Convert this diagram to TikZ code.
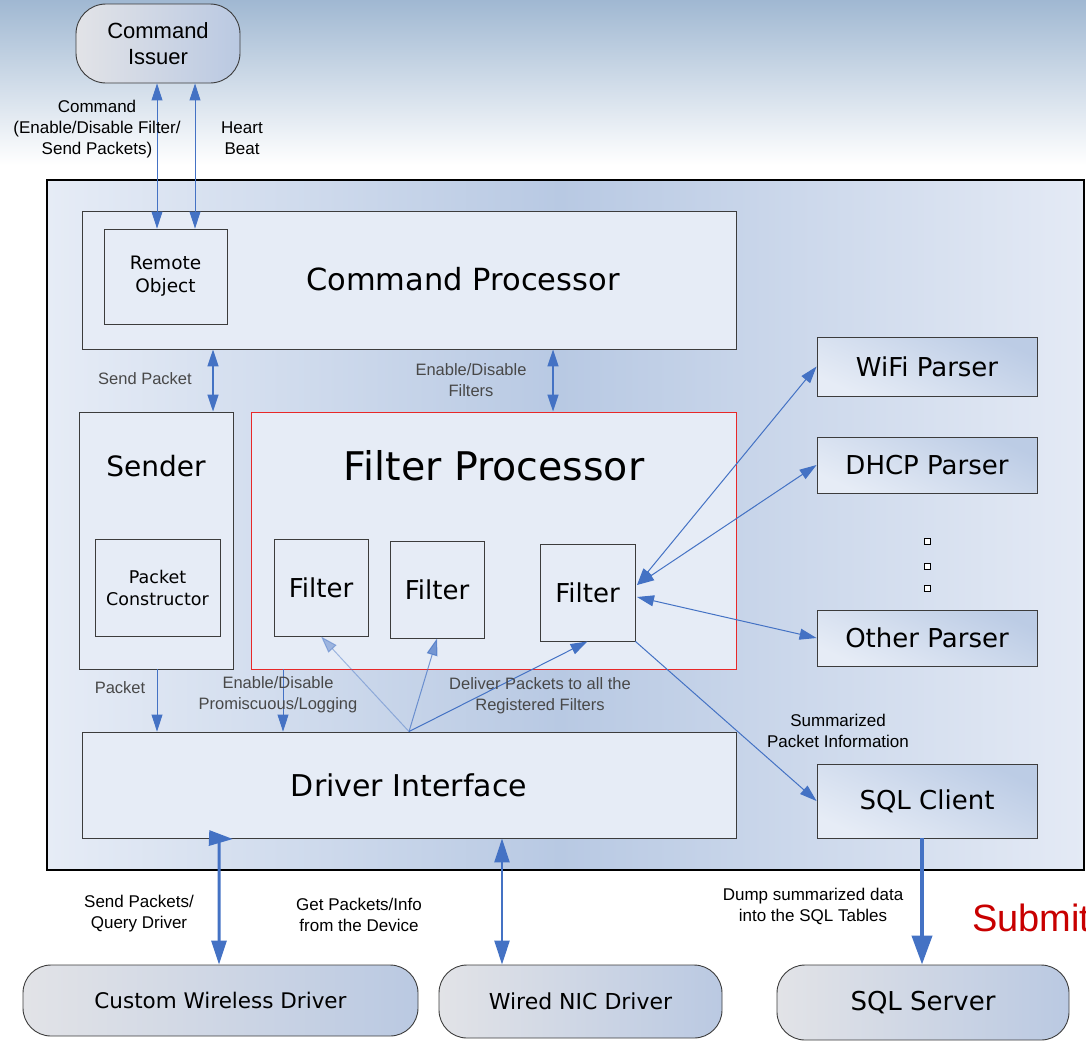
\documentclass[tikz,border=0pt]{standalone}
\usepackage{fontspec}
\setmainfont{Liberation Sans}
\newfontfamily\vfont{DejaVu Sans}
\usetikzlibrary{arrows.meta}

\definecolor{arrowblue}{RGB}{68,114,196}
\definecolor{boxfill}{RGB}{230,236,246}
\definecolor{panelleft}{RGB}{230,236,246}
\definecolor{panelmid}{RGB}{184,201,227}
\definecolor{panelright}{RGB}{228,234,245}
\definecolor{parsertop}{RGB}{188,204,229}
\definecolor{capgray}{RGB}{226,227,231}
\definecolor{capblue}{RGB}{186,201,226}
\definecolor{skytop}{RGB}{160,184,210}
\definecolor{labelgray}{RGB}{72,72,72}
\definecolor{framegray}{RGB}{60,60,60}
\definecolor{filterred}{RGB}{232,40,40}
\definecolor{submitred}{RGB}{200,0,0}

\tikzset{
  box/.style={draw=framegray, fill=boxfill, line width=0.9pt, inner sep=0pt, align=center, font=\vfont},
  parser/.style={box, top color=parsertop, bottom color=boxfill, shading angle=-25,
                 minimum width=220pt, font=\vfont\fontsize{26}{30}\selectfont},
  capsule/.style={draw=framegray, line width=0.9pt, rounded corners=28pt, inner sep=0pt,
                  left color=capgray, right color=capblue, align=center},
  lbl/.style={align=center, font=\fontsize{17}{21}\selectfont, text=black, inner sep=0pt},
  glbl/.style={lbl, font=\fontsize{16.5}{21}\selectfont, text=labelgray},
  conn/.style={draw=arrowblue, line width=1pt, >={Triangle[length=17pt,width=11pt]}},
  heavy/.style={draw=arrowblue, line width=3pt, >={Triangle[length=24pt,width=15pt]}},
  dotbox/.style={draw=black, fill=white, line width=0.7pt, minimum size=6pt, inner sep=0pt},
}

\begin{document}
\begin{tikzpicture}[x=1pt,y=-1pt]
\useasboundingbox (0,0) rectangle (1086,1044);

% sky backdrop
\shade[top color=skytop, bottom color=white] (0,0) rectangle (1086,165);

% system panel: light at the sides, deeper blue in the middle
\shade[left color=panelleft, right color=panelmid] (47,180) rectangle (560.5,870);
\shade[left color=panelmid, right color=panelright] (560,180) rectangle (1084,870);
\draw[line width=2.5pt] (47,180) rectangle (1084,870);

% external actors
\node[capsule, minimum width=164pt, minimum height=79pt, rounded corners=30pt,
      font=\fontsize{22}{26}\selectfont] (ci) at (158,43.5) {Command\\Issuer};
\node[capsule, minimum width=395pt, minimum height=71pt,
      font=\vfont\fontsize{21.5}{26}\selectfont] (cwd) at (220.5,1000.5) {Custom Wireless Driver};
\node[capsule, minimum width=283pt, minimum height=73pt,
      font=\vfont\fontsize{22}{26}\selectfont] (nic) at (580.5,1001.5) {Wired NIC Driver};
\node[capsule, minimum width=292pt, minimum height=75pt,
      font=\vfont\fontsize{26}{30}\selectfont] (sqls) at (923,1002.5) {SQL Server};

% command processor
\node[box, minimum width=654pt, minimum height=138pt] (cp) at (409,280) {};
\node[font=\vfont\fontsize{30.5}{36}\selectfont, inner sep=0pt] (cpt) at (463,279) {Command Processor};
\node[box, minimum width=123pt, minimum height=95pt, font=\vfont\fontsize{18.5}{23}\selectfont]
      (ro) at (165.5,276.5) {Remote\\Object};

% sender
\node[box, minimum width=154pt, minimum height=257pt] (snd) at (156,540.5) {};
\node[font=\vfont\fontsize{28}{32}\selectfont, inner sep=0pt] (sndt) at (156,466) {Sender};
\node[box, minimum width=125pt, minimum height=97pt, font=\vfont\fontsize{17.5}{22}\selectfont]
      (pc) at (157.5,587.5) {Packet\\Constructor};

% filter processor
\node[box, draw=filterred, minimum width=485pt, minimum height=257pt] (fp) at (493.5,540.5) {};
\node[font=\vfont\fontsize{39.5}{44}\selectfont, inner sep=0pt] (fpt) at (494,466) {Filter Processor};
\node[box, minimum width=94pt, minimum height=97pt, font=\vfont\fontsize{26}{30}\selectfont]
      (f1) at (321,587.5) {Filter};
\node[box, minimum width=94pt, minimum height=97pt, font=\vfont\fontsize{26}{30}\selectfont]
      (f2) at (437,589.5) {Filter};
\node[box, minimum width=95pt, minimum height=97pt, font=\vfont\fontsize{26}{30}\selectfont]
      (f3) at (587.5,592.5) {Filter};

% parsers
\node[parser, minimum height=59pt] (wifi) at (927,366.5) {WiFi Parser};
\node[parser, minimum height=56pt] (dhcp) at (927,465) {DHCP Parser};
\node[parser, minimum height=56pt] (other) at (927,638) {Other Parser};
\node[dotbox] (d1) at (927,541) {};
\node[dotbox] (d2) at (927,566) {};
\node[dotbox] (d3) at (927,588) {};

% driver interface and SQL client
\node[box, minimum width=654pt, minimum height=106pt, font=\vfont\fontsize{30}{36}\selectfont]
      (di) at (409,785) {Driver Interface};
\node[parser, minimum height=74pt] (sqlc) at (927,801) {SQL Client};

% connectors: command issuer <-> remote object
\draw[conn, <->] (ci.south -| 157,0) -- (ro.north -| 157,0);
\draw[conn, <->] (ci.south -| 195,0) -- (ro.north -| 195,0);

% command processor <-> sender / filter processor
\draw[conn, <->, line width=1.3pt] (cp.south -| 213,0) -- (snd.north -| 213,0);
\draw[conn, <->, line width=1.3pt] (cp.south -| 553,0) -- (fp.north -| 553,0);

% sender / filter processor -> driver interface
\draw[conn, ->] (snd.south -| 157,0) -- (di.north -| 157,0);
\draw[conn, ->] (fp.south -| 283,0) -- (di.north -| 283,0);

% packet delivery to filters
\draw[conn, ->, draw opacity=0.45, fill opacity=0.45] (di.north) -- (f1.south);
\draw[conn, ->, draw opacity=0.7, fill opacity=0.7] (di.north) -- (f2.south);
\draw[conn, ->] (di.north) -- (f3.south);

% filter <-> parsers
\coordinate (fa) at (637,585);
\coordinate (fb) at (637,597);
\draw[conn, <->] (fa) -- (wifi.west);
\draw[conn, <->] (fa) -- (dhcp.west);
\draw[conn, <->] (fb) -- (other.west);
\draw[conn, ->] (f3.south east) -- (sqlc.west);

% links to the outside
\draw[heavy, <->] (233,839) -- (di.south -| 219,0) -- (cwd.north -| 219,0);
\draw[heavy, <->, line width=2.5pt] (di.south -| 502,0) -- (nic.north -| 502,0);
\draw[heavy, ->, line width=4pt, >={Triangle[length=29pt,width=20pt]}]
      (sqlc.south -| 922,0) -- (sqls.north -| 922,0);

% connector labels
\node[lbl] (lcmd) at (97,129.5) {Command\\(Enable/Disable Filter/\\Send Packets)};
\node[lbl] (lhb) at (242,138.5) {Heart\\Beat};
\node[glbl] (lsp) at (145,379) {Send Packet};
\node[glbl] (lef) at (471,380) {Enable/Disable\\Filters};
\node[glbl] (lpk) at (120,688) {Packet};
\node[glbl] (lpr) at (278,694.5) {Enable/Disable\\Promiscuous/Logging};
\node[glbl] (ldp) at (540,695.5) {Deliver Packets to all the\\Registered Filters};
\node[lbl] (lsm) at (838,730.5) {Summarized\\Packet Information};
\node[lbl] (lsq) at (139,914) {Send Packets/\\Query Driver};
\node[lbl] (lgp) at (359,915) {Get Packets/Info\\from the Device};
\node[lbl] (ldm) at (813,906.5) {Dump summarized data\\into the SQL Tables};
\node[anchor=west, inner sep=0pt, text=submitred, font=\fontsize{38}{44}\selectfont] (sub) at (972,918) {Submit};
\end{tikzpicture}
\end{document}
